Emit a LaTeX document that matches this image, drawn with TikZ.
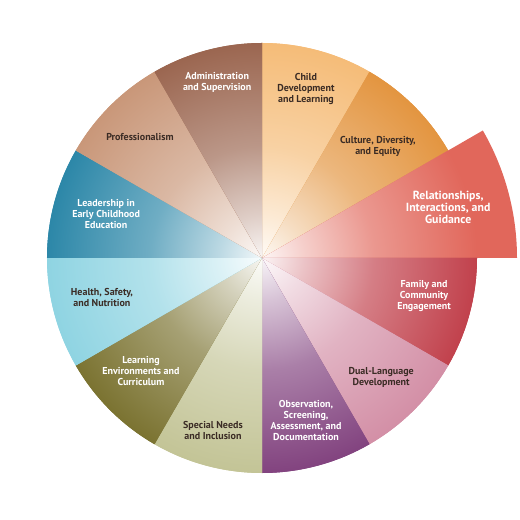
\documentclass[tikz,border=0pt]{standalone}
\usepackage{fontspec}
\setmainfont{PT Sans}

\definecolor{childcol}{HTML}{F5BC78}
\definecolor{culturecol}{HTML}{E39540}
\definecolor{relationcol}{HTML}{E1675B}
\definecolor{familycol}{HTML}{C1414C}
\definecolor{dualcol}{HTML}{D38FA6}
\definecolor{observecol}{HTML}{82437F}
\definecolor{specialcol}{HTML}{C3C496}
\definecolor{learningcol}{HTML}{7B7331}
\definecolor{healthcol}{HTML}{8FD4E2}
\definecolor{leadcol}{HTML}{2C87A8}
\definecolor{professcol}{HTML}{C99779}
\definecolor{admincol}{HTML}{9B6650}
\definecolor{labeldark}{HTML}{3B2C25}

% white hub fading quickly into the sector colour
\colorlet{wedgecol}{black}
\pgfdeclareradialshading[wedgecol]{wedgeshade}{\pgfpointorigin}{%
  color(0bp)=(wedgecol!6); color(5bp)=(wedgecol!32);
  color(13bp)=(wedgecol!68); color(25bp)=(wedgecol);
  color(50bp)=(wedgecol)}

\tikzset{
  sector label/.style={align=center, inner sep=0pt,
    font=\bfseries\fontsize{5.7}{6.3}\selectfont},
  big label/.style={sector label, font=\bfseries\fontsize{6.7}{6.9}\selectfont},
}

\begin{document}
\begin{tikzpicture}[scale=1.0]
  \useasboundingbox (-5.24,-5.24) rectangle (5.16,5.16);

  % -- Sectors, white at the hub --
  \foreach \start/\col/\rad in {60/childcol/4.3, 30/culturecol/4.3,
      0/relationcol/5.1, -30/familycol/4.3, -60/dualcol/4.3,
      -90/observecol/4.3, -120/specialcol/4.3, -150/learningcol/4.3,
      -180/healthcol/4.3, 150/leadcol/4.3, 120/professcol/4.3,
      90/admincol/4.3}{
    \begin{scope}
      \colorlet{wedgecol}{\col}
      \fill[\col] (0,0) -- (\start:\rad) arc (\start:\start+30:\rad) -- cycle;
      \clip (0,0) -- (\start:\rad) arc (\start:\start+30:\rad) -- cycle;
      \shade[shading=wedgeshade] (0,0) circle (4.3);
    \end{scope}
  }

  % -- Labels, top half --
  \node[sector label, text=labeldark] (child) at (75.4:3.49)
    {Child\\Development\\and Learning};
  \node[sector label, text=labeldark] (culture) at (44:3.22)
    {Culture, Diversity,\\and Equity};
  \node[big label, text=white] (relations) at (15.3:3.86)
    {Relationships,\\Interactions, and\\Guidance};
  \node[sector label, text=white] (admin) at (104.3:3.63)
    {Administration\\and Supervision};
  \node[sector label, text=labeldark] (profess) at (135.2:3.44)
    {Professionalism};
  \node[sector label, text=white] (leadership) at (164.2:3.24)
    {Leadership in\\Early Childhood\\Education};

  % -- Labels, bottom half --
  \node[sector label, text=white] (family) at (-13.2:3.33)
    {Family and\\Community\\Engagement};
  \node[sector label, text=labeldark] (duallang) at (-45:3.37)
    {Dual-Language\\Development};
  \node[sector label, text=white] (observe) at (-74.8:3.36)
    {Observation,\\Screening,\\Assessment, and\\Documentation};
  \node[sector label, text=labeldark] (special) at (-105.9:3.58)
    {Special Needs\\and Inclusion};
  \node[sector label, text=white] (learning) at (-137:3.31)
    {Learning\\Environments and\\Curriculum};
  \node[sector label, text=labeldark] (health) at (-166:3.30)
    {Health, Safety,\\and Nutrition};

\end{tikzpicture}
\end{document}
